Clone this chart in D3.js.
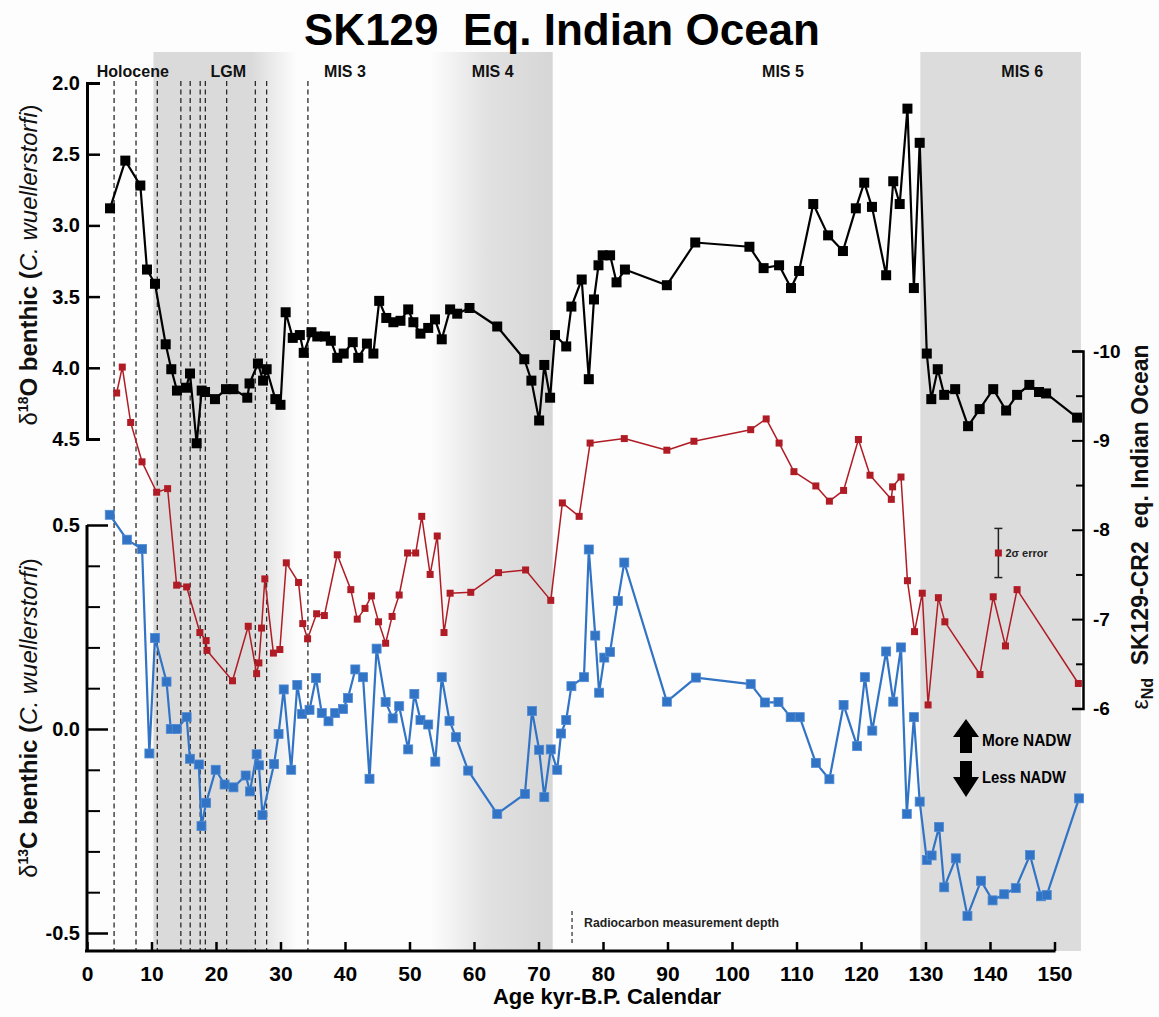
<!DOCTYPE html>
<html><head><meta charset="utf-8">
<script src="https://cdn.jsdelivr.net/npm/d3@7"></script>
<style>
body{margin:0;background:#fff;}
svg text{font-family:"Liberation Sans",Arial,Helvetica,sans-serif;}
</style>
</head><body>
<svg id="c" width="1159" height="1017"></svg>
<script>
// ---------------- DATA ----------------
// delta18O benthic (black)
const ageO = [3.57,5.94,8.27,9.3,10.54,12.2,13.07,13.95,15.35,15.97,17.0,17.78,18.3,19.84,21.55,22.7,24.85,25.2,26.5,27.3,27.85,29.2,30.0,30.8,31.9,33.0,33.6,34.8,35.7,36.9,37.8,38.8,39.8,41.2,42.06,43.4,44.4,45.3,46.4,47.5,48.6,49.8,50.6,51.7,52.9,53.95,55.0,56.3,57.4,59.3,63.6,67.8,68.9,70.1,70.9,71.8,72.56,74.3,75.1,76.7,77.8,78.6,79.3,79.95,81.1,82.1,83.4,89.9,94.3,102.7,104.9,107.3,109.15,110.4,112.6,114.9,117.2,119.2,120.5,121.7,123.9,125.0,126.0,127.2,128.2,129.1,130.2,130.9,131.9,132.9,134.6,136.6,138.4,140.5,142.5,144.2,146.1,147.6,148.7,153.5];
const d18O = [2.88,2.545,2.72,3.31,3.41,3.835,4.01,4.16,4.14,4.04,4.53,4.16,4.17,4.22,4.15,4.15,4.21,4.11,3.97,4.09,4.01,4.22,4.26,3.61,3.79,3.77,3.895,3.75,3.78,3.78,3.81,3.93,3.90,3.82,3.93,3.83,3.90,3.53,3.65,3.68,3.67,3.59,3.68,3.76,3.72,3.66,3.80,3.59,3.62,3.58,3.71,3.94,4.09,4.37,3.98,4.21,3.77,3.85,3.57,3.38,4.08,3.52,3.28,3.21,3.21,3.40,3.31,3.42,3.12,3.15,3.30,3.28,3.44,3.32,2.85,3.07,3.18,2.88,2.70,2.87,3.35,2.69,2.85,2.18,3.44,2.42,3.90,4.22,4.01,4.19,4.15,4.41,4.29,4.15,4.30,4.19,4.12,4.17,4.18,4.35];

// epsilon Nd (red)
const ageNd = [4.6,5.47,6.77,8.53,10.8,12.5,13.9,15.45,17.5,18.47,18.6,22.56,25.0,26.3,26.65,27.06,27.57,28.9,29.9,30.9,32.8,33.45,34.2,35.6,36.8,38.8,40.9,41.9,43.1,44.1,45.2,46.3,47.3,48.4,49.7,50.96,51.9,53.2,54.3,55.35,56.3,59.5,63.8,68.0,71.9,73.7,76.3,78.0,83.3,89.9,94.1,102.9,105.3,107.3,109.6,113.0,115.1,117.3,119.6,121.4,124.7,124.9,126.2,127.2,128.3,129.5,130.4,132.0,133.0,138.45,140.5,142.4,144.2,153.7];
const eNd = [-9.53,-9.82,-9.20,-8.76,-8.42,-8.46,-7.38,-7.36,-6.85,-6.76,-6.65,-6.31,-6.92,-6.39,-6.51,-6.90,-7.45,-6.62,-6.66,-7.63,-7.41,-6.95,-6.78,-7.06,-7.04,-7.72,-7.33,-7.0,-7.12,-7.26,-6.97,-6.73,-7.03,-7.27,-7.74,-7.74,-8.15,-7.50,-7.93,-6.85,-7.29,-7.30,-7.52,-7.55,-7.21,-8.30,-8.15,-8.97,-9.02,-8.89,-8.99,-9.12,-9.24,-8.97,-8.65,-8.49,-8.32,-8.44,-9.01,-8.61,-8.34,-8.48,-8.59,-7.43,-6.86,-7.29,-6.04,-7.24,-6.97,-6.38,-7.25,-6.70,-7.33,-6.28];

// delta13C benthic (blue)
const ageC = [3.53,6.19,8.54,9.67,10.54,12.33,12.99,13.91,15.45,15.96,17.34,17.75,18.47,19.95,21.33,22.71,24.6,25.27,26.3,26.65,27.2,29.0,29.7,30.5,31.66,32.6,33.35,34.5,35.5,36.4,37.44,38.47,39.7,40.46,41.6,42.8,43.8,44.9,46.3,47.4,48.4,49.8,50.75,51.7,52.9,54.0,55.0,56.2,57.2,59.1,63.6,67.9,69.0,70.1,70.9,71.9,72.9,73.5,74.3,75.1,77.05,77.8,78.8,79.4,80.2,81.1,82.3,83.3,89.9,94.4,102.9,105.1,107.2,109.1,110.5,113.0,115.1,117.3,119.4,120.6,121.75,123.9,125.0,126.2,127.1,128.2,129.1,130.2,130.95,132.1,132.9,134.7,136.5,138.6,140.4,142.2,144.0,146.2,147.9,148.8,153.8];
const d13C = [0.525,0.464,0.441,-0.06,0.223,0.116,0.0,0.0,0.029,-0.073,-0.087,-0.238,-0.181,-0.10,-0.136,-0.143,-0.114,-0.153,-0.062,-0.089,-0.211,-0.086,-0.012,0.097,-0.10,0.108,0.037,0.047,0.125,0.039,0.019,0.039,0.049,0.076,0.146,0.127,-0.122,0.197,0.066,0.026,0.056,-0.05,0.086,0.022,0.011,-0.08,0.127,0.02,-0.02,-0.102,-0.208,-0.159,0.044,-0.051,-0.167,-0.05,-0.10,-0.011,0.022,0.105,0.127,0.44,0.229,0.089,0.175,0.189,0.314,0.408,0.067,0.126,0.11,0.065,0.066,0.029,0.029,-0.083,-0.123,0.059,-0.042,0.127,-0.004,0.19,0.067,0.2,-0.208,0.029,-0.178,-0.321,-0.31,-0.24,-0.388,-0.317,-0.458,-0.372,-0.42,-0.405,-0.39,-0.309,-0.41,-0.407,-0.17];

// shaded intervals (kyr)
const bandStart = [10.3, 53.2, 129.2];
const bandEnd   = [32.5, 72.2, 154.1];
// dashed lines (kyr)
const dashAges = [4.2, 7.6, 10.9, 14.55, 16.0, 17.55, 18.35, 21.65, 26.1, 27.85, 34.25];
const radiocarbonAge = 75.2;
// period labels
const periodNames = ["Holocene","LGM","MIS 3","MIS 4","MIS 5","MIS 6"];
const periodAges  = [7.1, 21.9, 40.0, 62.9, 107.9, 145.0];
// ticks
const xTickVals  = [0,10,20,30,40,50,60,70,80,90,100,110,120,130,140,150];
const oTickVals  = [2.0,2.5,3.0,3.5,4.0,4.5];
const cMajorVals = [0.5,0.0,-0.5];
const cMinorVals = [0.4,0.3,0.2,0.1,-0.1,-0.2,-0.3,-0.4];
const ndMajorVals = [-10,-9,-8,-7,-6];
const ndMinorVals = [-9.5,-8.5,-7.5,-6.5];
// 2 sigma error example
const errAge = 141.3, errCenter = -7.74, errHalf = 0.275;

// ---------------- LAYOUT ----------------
const svg = d3.select('#c');
svg.append('rect').attr('width',1159).attr('height',1017).attr('fill','#fdfdfd');
const plotTop = 52, plotBottom = 951;
const x  = d3.scaleLinear().domain([0,150]).range([87,1054.5]);
const yO = d3.scaleLinear().domain([2.0,4.5]).range([83,439]);
const yC = d3.scaleLinear().domain([0.5,-0.5]).range([525,933]);
const yN = d3.scaleLinear().domain([-10,-6]).range([351,708.5]);

const defs = svg.append('defs');
function grad(id, stops, color){
  const g = defs.append('linearGradient').attr('id',id)
    .attr('x1','0%').attr('x2','100%').attr('y1','0%').attr('y2','0%');
  stops.forEach(s=>g.append('stop').attr('offset',s[0]).attr('stop-color',color).attr('stop-opacity',s[1]));
}
grad('gLGM',[[0,1],[0.68,1],[1,0]],'#dadada');
grad('gMIS4',[[0,0],[0.45,0.7],[1,1]],'#d6d6d6');
grad('gMIS6',[[0,1],[1,1]],'#dcdcdc');
const bandFill = ['url(#gLGM)','url(#gMIS4)','url(#gMIS6)'];

svg.append('g').selectAll('rect').data(d3.range(bandStart.length)).join('rect')
  .attr('x',i=>x(bandStart[i])).attr('width',i=>x(bandEnd[i])-x(bandStart[i]))
  .attr('y',plotTop).attr('height',plotBottom-plotTop)
  .attr('fill',i=>bandFill[i]);

// dashed lines
svg.append('g').selectAll('line').data(dashAges).join('line')
  .attr('x1',d=>x(d)).attr('x2',d=>x(d)).attr('y1',81).attr('y2',plotBottom)
  .attr('stroke','#2a2a2a').attr('stroke-width',1.3).attr('stroke-dasharray','5,3.5');
svg.append('line').attr('x1',x(radiocarbonAge)).attr('x2',x(radiocarbonAge))
  .attr('y1',911).attr('y2',946).attr('stroke','#2a2a2a').attr('stroke-width',1.2).attr('stroke-dasharray','4,3');
svg.append('text').attr('x',x(radiocarbonAge)+12).attr('y',927)
  .attr('font-size',12).attr('font-weight','bold').attr('fill','#222')
  .attr('textLength',195).attr('lengthAdjust','spacingAndGlyphs')
  .text('Radiocarbon measurement depth');

// series
function series(ages, vals, ys, color, lw, ms, stroke){
  const pts = d3.zip(ages, vals);
  const g = svg.append('g');
  g.append('path').datum(pts)
    .attr('d', d3.line().x(d=>x(d[0])).y(d=>ys(d[1])))
    .attr('fill','none').attr('stroke',color).attr('stroke-width',lw).attr('stroke-linejoin','round');
  g.selectAll('rect').data(pts).join('rect')
    .attr('x',d=>x(d[0])-ms/2).attr('y',d=>ys(d[1])-ms/2)
    .attr('width',ms).attr('height',ms)
    .attr('fill',color).attr('stroke',stroke||'none').attr('stroke-width',0.8);
}
series(ageNd, eNd, yN, '#b01c25', 1.5, 7);
series(ageC, d13C, yC, '#3173c4', 2.2, 9, '#4f8ad4');
series(ageO, d18O, yO, '#000000', 2.2, 10);

// ---------------- AXES ----------------
function styleAxis(g, fs){
  g.selectAll('text').attr('font-size',fs).attr('font-weight','bold').attr('fill','#000')
    .attr('font-family','"Liberation Sans",Arial,sans-serif');
  g.selectAll('.tick line').attr('stroke','#000').attr('stroke-width',2.5);
  g.select('.domain').attr('stroke','#000').attr('stroke-width',3);
}
// x axis
const gx = svg.append('g').attr('transform',`translate(0,${plotBottom})`)
  .call(d3.axisBottom(x).tickValues(xTickVals).tickFormat(d=>String(d))
    .tickSizeInner(-9).tickSizeOuter(0).tickPadding(15));
styleAxis(gx, 21);
gx.select('.domain').attr('d',`M${x(0)-2},0H${x(150)+1}`);

// left top axis (d18O)
const gO = svg.append('g').attr('transform','translate(87,0)')
  .call(d3.axisLeft(yO).tickValues(oTickVals).tickFormat(d=>d.toFixed(1))
    .tickSizeInner(-13).tickSizeOuter(-13).tickPadding(7));
styleAxis(gO, 20);

// left bottom axis (d13C)
const gC = svg.append('g').attr('transform','translate(87,0)')
  .call(d3.axisLeft(yC).tickValues(cMajorVals).tickFormat(d=>d.toFixed(1))
    .tickSizeInner(-21).tickSizeOuter(0).tickPadding(7));
styleAxis(gC, 20);
gC.select('.domain').attr('d',`M0,${yC(0.5)}V${plotBottom}`);
const gC2 = svg.append('g').attr('transform','translate(87,0)')
  .call(d3.axisLeft(yC).tickValues(cMinorVals).tickFormat('').tickSizeInner(-13).tickSizeOuter(0));
gC2.select('.domain').remove();
gC2.selectAll('.tick line').attr('stroke','#000').attr('stroke-width',2);

// right axis (eNd)
const gN = svg.append('g').attr('transform','translate(1083,0)')
  .call(d3.axisRight(yN).tickValues(ndMajorVals).tickFormat(d=>String(d))
    .tickSizeInner(-11).tickSizeOuter(-11).tickPadding(10));
styleAxis(gN, 19);
gN.select('.domain').attr('stroke-width',2.5);
gN.selectAll('.tick line').attr('stroke-width',2);
const gN2 = svg.append('g').attr('transform','translate(1083,0)')
  .call(d3.axisRight(yN).tickValues(ndMinorVals).tickFormat('').tickSizeInner(-7).tickSizeOuter(0));
gN2.select('.domain').remove();
gN2.selectAll('.tick line').attr('stroke','#000').attr('stroke-width',2);

// ---------------- TEXT ----------------
svg.append('text').attr('x',562).attr('y',45).attr('text-anchor','middle')
  .attr('font-size',44).attr('font-weight','bold').style('white-space','pre')
  .text('SK129  Eq. Indian Ocean');

svg.append('g').selectAll('text').data(periodNames).join('text')
  .attr('x',(d,i)=>x(periodAges[i])).attr('y',77).attr('text-anchor','middle')
  .attr('font-size',16).attr('font-weight','bold').attr('fill','#111').text(d=>d);

svg.append('text').attr('x',607).attr('y',1004).attr('text-anchor','middle')
  .attr('font-size',22).attr('font-weight','bold').text('Age kyr-B.P. Calendar');

function yLabel(cx, cy, iso, elem){
  const t = svg.append('text').attr('transform',`translate(${cx},${cy}) rotate(-90)`)
    .attr('text-anchor','middle').attr('font-size',24).attr('fill','#111');
  t.append('tspan').text('δ');
  t.append('tspan').attr('font-size',14).attr('dy',-9).attr('font-weight','bold').text(iso);
  t.append('tspan').attr('dy',9).attr('font-weight','bold').style('white-space','pre').text(elem+' benthic (');
  t.append('tspan').attr('font-style','italic').text('C. wuellerstorfi');
  t.append('tspan').text(')');
}
yLabel(37, 265, '18', 'O');
yLabel(37, 718, '13', 'C');

{
  const t = svg.append('text').attr('transform','translate(1148,527) rotate(-90)')
    .attr('text-anchor','middle').attr('font-size',23).attr('fill','#111').style('white-space','pre');
  t.append('tspan').text('ε');
  t.append('tspan').attr('font-size',16).attr('dy',5).attr('font-weight','bold').text('Nd');
  t.append('tspan').attr('dy',-5).attr('font-weight','bold').text('  SK129-CR2  eq. Indian Ocean');
}

// 2 sigma error legend
{
  const ex = x(errAge);
  const g = svg.append('g');
  g.append('line').attr('x1',ex).attr('x2',ex).attr('y1',yN(errCenter-errHalf)).attr('y2',yN(errCenter+errHalf))
    .attr('stroke','#222').attr('stroke-width',1.5);
  [errCenter-errHalf, errCenter+errHalf].forEach(v=>g.append('line')
    .attr('x1',ex-4).attr('x2',ex+4).attr('y1',yN(v)).attr('y2',yN(v)).attr('stroke','#222').attr('stroke-width',1.5));
  g.append('rect').attr('x',ex-3.5).attr('y',yN(errCenter)-3.5).attr('width',7).attr('height',7).attr('fill','#b01c25');
  g.append('text').attr('x',ex+7).attr('y',yN(errCenter)+4).attr('font-size',11).attr('font-weight','bold')
    .attr('fill','#222').text('2σ error');
}

// NADW arrows
{
  const g = svg.append('g');
  const cx = 966;
  g.append('path').attr('d',`M${cx},719 L${cx+13},737 L${cx+6},737 L${cx+6},753 L${cx-6},753 L${cx-6},737 L${cx-13},737 Z`).attr('fill','#000');
  g.append('path').attr('d',`M${cx},797 L${cx+13},777 L${cx+6},777 L${cx+6},761 L${cx-6},761 L${cx-6},777 L${cx-13},777 Z`).attr('fill','#000');
  g.append('text').attr('x',982).attr('y',746).attr('font-size',17).attr('font-weight','bold')
    .attr('textLength',89).attr('lengthAdjust','spacingAndGlyphs').text('More NADW');
  g.append('text').attr('x',982).attr('y',783).attr('font-size',17).attr('font-weight','bold')
    .attr('textLength',84).attr('lengthAdjust','spacingAndGlyphs').text('Less NADW');
}
</script>
</body></html>
